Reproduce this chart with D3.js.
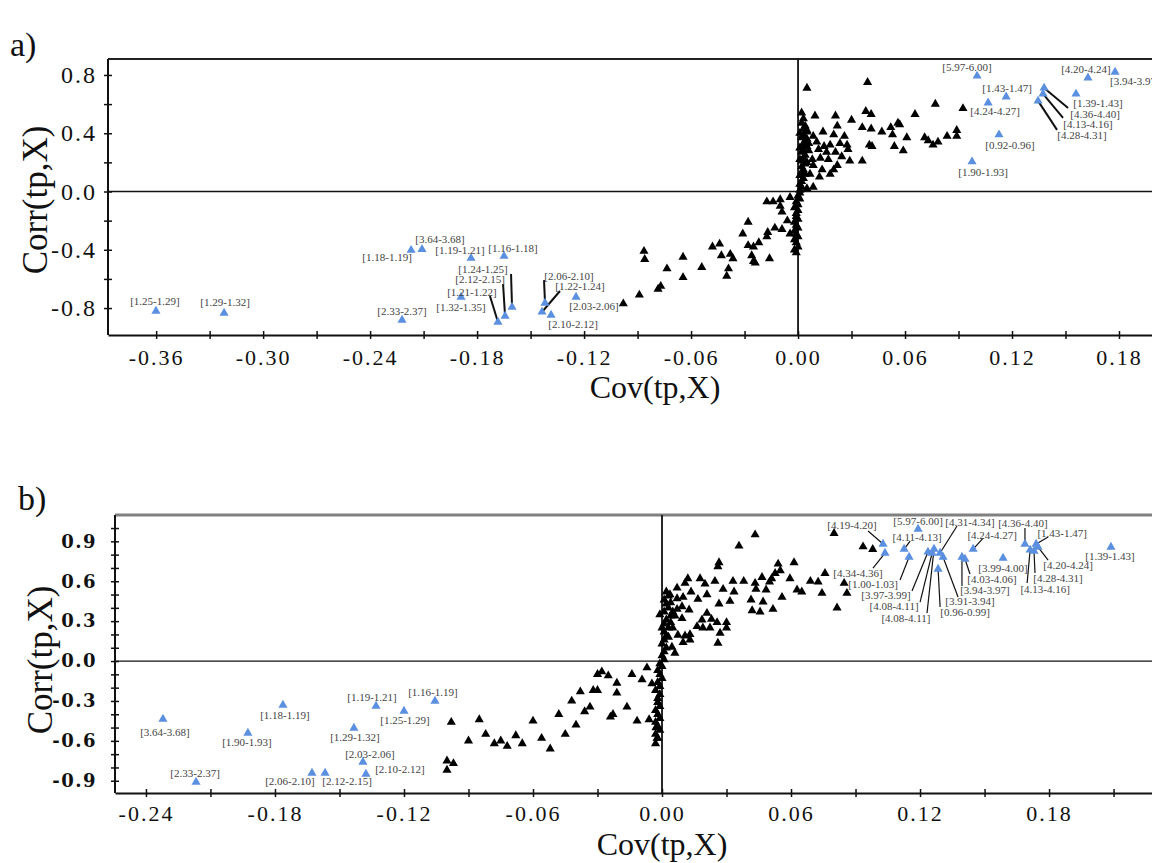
<!DOCTYPE html>
<html><head><meta charset="utf-8">
<script src="https://cdn.jsdelivr.net/npm/d3@7"></script>
<style>body{margin:0;background:#fff;overflow:hidden}svg{display:block}</style>
</head><body>
<script>
// ---------------- DATA ----------------
// Panel a) tick values / labels
const aXTicks = [-0.36,-0.33,-0.30,-0.27,-0.24,-0.21,-0.18,-0.15,-0.12,-0.09,-0.06,-0.03,0.00,0.03,0.06,0.09,0.12,0.15,0.18];
const aXLabelVals = [-0.36,-0.30,-0.24,-0.18,-0.12,-0.06,0.00,0.06,0.12,0.18];
const aXLabels = ["-0.36","-0.30","-0.24","-0.18","-0.12","-0.06","0.00","0.06","0.12","0.18"];
const aYTicks = [-0.8,-0.6,-0.4,-0.2,0.0,0.2,0.4,0.6,0.8];
const aYLabelVals = [-0.8,-0.4,0.0,0.4,0.8];
const aYLabels = ["-0.8","-0.4","0.0","0.4","0.8"];
// Panel b) tick values / labels
const bXTicks = [-0.24,-0.21,-0.18,-0.15,-0.12,-0.09,-0.06,-0.03,0.00,0.03,0.06,0.09,0.12,0.15,0.18,0.21];
const bXLabelVals = [-0.24,-0.18,-0.12,-0.06,0.00,0.06,0.12,0.18];
const bXLabels = ["-0.24","-0.18","-0.12","-0.06","0.00","0.06","0.12","0.18"];
const bYTicks = [-0.9,-0.8,-0.7,-0.6,-0.5,-0.4,-0.3,-0.2,-0.1,0.0,0.1,0.2,0.3,0.4,0.5,0.6,0.7,0.8,0.9,1.0];
const bYLabelVals = [-0.9,-0.6,-0.3,0.0,0.3,0.6,0.9];
const bYLabels = ["-0.9","-0.6","-0.3","0.0","0.3","0.6","0.9"];

// Panel a) black variables [Cov, Corr]
const aBlack = [
[0.005,0.71],[0.039,0.75],[0.002,0.54],[0.0095,0.52],[0.021,0.52],[0.030,0.49],[0.038,0.55],[0.041,0.53],[0.052,0.44],[0.056,0.47],
[0.022,0.45],[0.036,0.44],[0.041,0.43],[0.047,0.41],[0.053,0.39],[0.014,0.41],[0.020,0.39],[0.026,0.38],[0.0085,0.38],[0.0105,0.34],
[0.018,0.32],[0.0235,0.33],[0.0275,0.32],[0.028,0.29],[0.040,0.32],[0.0415,0.31],[0.054,0.31],[0.036,0.21],[0.029,0.21],[0.0115,0.29],
[0.016,0.27],[0.021,0.27],[0.0245,0.24],[0.0125,0.23],[0.017,0.22],[0.022,0.18],[0.0085,0.18],[0.020,0.15],[0.0135,0.15],[0.018,0.12],
[0.0067,0.12],[0.012,0.10],[0.0085,0.03],[0.005,0.02],[0.0146,0.31],[0.008,0.22],
[0.057,0.46],[0.0656,0.53],[0.077,0.60],[0.0925,0.57],[0.061,0.37],[0.071,0.37],[0.073,0.35],[0.0757,0.32],[0.0785,0.34],[0.0836,0.38],
[0.089,0.42],[0.089,0.38],[0.059,0.28],
[-0.0175,-0.07],[-0.014,-0.07],[-0.010,-0.055],[-0.0045,-0.04],[-0.009,-0.14],[-0.010,-0.10],[-0.006,-0.20],[-0.009,-0.26],[-0.013,-0.25],
[-0.017,-0.28],[-0.0175,-0.31],[-0.0045,-0.29],[-0.028,-0.21],[-0.031,-0.29],[-0.022,-0.35],[-0.028,-0.37],[-0.025,-0.38],[-0.026,-0.44],
[-0.025,-0.48],[-0.024,-0.49],[-0.016,-0.46],[-0.048,-0.38],[-0.044,-0.36],[-0.043,-0.44],[-0.038,-0.43],[-0.0365,-0.46],[-0.039,-0.53],
[-0.040,-0.58],[-0.054,-0.52],[-0.0645,-0.45],[-0.0645,-0.59],[-0.0735,-0.53],[-0.077,-0.65],[-0.0785,-0.67],[-0.0864,-0.41],[-0.086,-0.465],
[-0.089,-0.71],[-0.098,-0.77],
[-0.001,-0.42],[-0.002,-0.40],[0.000,-0.38],[-0.001,-0.35],[-0.002,-0.33],[0.000,-0.31],[-0.001,-0.29],[-0.002,-0.27],[0.000,-0.25],
[-0.001,-0.23],[-0.002,-0.21],[0.000,-0.19],[-0.001,-0.17],[-0.001,-0.15],[0.000,-0.13],[-0.002,-0.11],[0.000,-0.09],[-0.001,-0.07],
[0.001,-0.05],[0.000,-0.03],[0.001,-0.01],[0.001,0.01],[0.002,0.03],[0.001,0.05],[0.002,0.07],[0.003,0.09],[0.001,0.11],[0.002,0.13],
[0.003,0.15],[0.002,0.17],[0.004,0.19],[0.002,0.21],[0.003,0.23],[0.004,0.25],[0.002,0.27],[0.003,0.29],[0.005,0.31],[0.003,0.33],
[0.004,0.35],[0.002,0.37],[0.003,0.39],[0.005,0.41],[0.003,0.43],[0.004,0.45],[0.002,0.47],[0.003,0.50],[0.005,0.36],[0.006,0.28],
[0.005,0.20],[0.004,0.12],[0.005,0.42],[0.006,0.33],[0.001,0.40],[0.001,0.30],[0.001,0.22]
];
// Panel a) highlighted (blue) variables
const aBlueLabel = ["[5.97-6.00]","[1.43-1.47]","[4.24-4.27]","[0.92-0.96]","[1.90-1.93]","[4.20-4.24]","[3.94-3.97]","[1.39-1.43]",
"[4.36-4.40]","[4.13-4.16]","[4.28-4.31]","[1.18-1.19]","[3.64-3.68]","[1.19-1.21]","[1.16-1.18]","[1.24-1.25]","[2.12-2.15]",
"[1.21-1.22]","[1.32-1.35]","[2.33-2.37]","[2.06-2.10]","[1.22-1.24]","[2.10-2.12]","[2.03-2.06]","[1.25-1.29]","[1.29-1.32]"];
const aBlueX = [0.1004,0.1167,0.1066,0.1127,0.0976,0.1626,0.1778,0.1559,0.1380,0.1374,0.1346,-0.2170,-0.2109,-0.1834,-0.1649,-0.1604,
-0.1643,-0.1683,-0.1890,-0.2221,-0.1419,-0.1436,-0.1385,-0.1245,-0.3601,-0.3219];
const aBlueY = [0.793,0.650,0.609,0.390,0.205,0.780,0.820,0.670,0.711,0.670,0.622,-0.403,-0.397,-0.458,-0.444,-0.793,-0.855,-0.896,
-0.725,-0.882,-0.766,-0.827,-0.848,-0.725,-0.821,-0.834];

// Panel b) black variables
const bBlack = [
[0.0433,0.95],[0.0358,0.865],[0.080,0.96],[0.0935,0.86],[0.098,0.84],[0.0265,0.74],[0.026,0.71],[0.0614,0.74],[0.054,0.73],[0.055,0.68],
[0.0758,0.66],[0.012,0.62],[0.0177,0.62],[0.0246,0.60],[0.033,0.60],[0.038,0.60],[0.0465,0.63],[0.051,0.62],[0.0595,0.62],[0.0526,0.66],
[0.020,0.58],[0.0107,0.585],[0.0433,0.585],[0.050,0.595],[0.069,0.60],[0.0726,0.595],[0.0847,0.585],[0.007,0.55],[0.0135,0.52],[0.0209,0.50],
[0.0284,0.54],[0.0335,0.52],[0.0437,0.54],[0.0484,0.535],[0.0628,0.535],[0.065,0.52],[0.0744,0.51],[0.086,0.51],[0.0037,0.50],[0.007,0.47],
[0.0098,0.48],[0.0167,0.465],[0.0265,0.43],[0.0316,0.45],[0.0414,0.46],[0.047,0.445],[0.0558,0.48],[0.0814,0.40],[0.0419,0.38],[0.0456,0.37],
[0.0516,0.39],[0.007,0.39],[0.0093,0.41],[0.0126,0.385],[0.0209,0.36],[0.006,0.34],[0.0093,0.32],[0.0186,0.31],[0.023,0.315],[0.0256,0.29],
[0.030,0.29],[0.0163,0.26],[0.019,0.25],[0.0223,0.25],[0.030,0.25],[0.005,0.25],[0.0074,0.195],[0.0107,0.19],[0.013,0.20],[0.027,0.21],
[0.0098,0.14],[0.013,0.16],[0.026,0.135],[0.0046,0.105],[0.006,0.06],
[-0.007,-0.05],[-0.028,-0.08],[-0.025,-0.11],[-0.021,-0.165],[-0.014,-0.10],[-0.0093,-0.14],[-0.0047,-0.17],[-0.032,-0.22],[-0.021,-0.24],
[-0.0163,-0.345],[-0.0228,-0.40],[-0.024,-0.42],[-0.0116,-0.45],[-0.006,-0.44],[-0.0028,-0.50],[-0.0023,-0.58],[-0.0335,-0.345],
[-0.100,-0.75],[-0.100,-0.82],[-0.097,-0.77],[-0.098,-0.46],[-0.090,-0.60],[-0.085,-0.44],[-0.082,-0.55],[-0.078,-0.62],[-0.075,-0.60],
[-0.072,-0.64],[-0.068,-0.56],[-0.065,-0.62],[-0.060,-0.45],[-0.056,-0.58],[-0.052,-0.66],[-0.048,-0.40],[-0.045,-0.55],[-0.042,-0.30],
[-0.040,-0.48],[-0.038,-0.23],[-0.036,-0.38],[-0.030,-0.10],[-0.030,-0.22],
[-0.002,-0.58],[-0.003,-0.55],[-0.001,-0.52],[-0.002,-0.49],[-0.003,-0.46],[-0.001,-0.43],[-0.002,-0.40],[-0.003,-0.37],[-0.001,-0.34],
[-0.002,-0.31],[-0.002,-0.28],[-0.001,-0.25],[-0.003,-0.22],[-0.001,-0.19],[-0.002,-0.16],[0.000,-0.13],[-0.001,-0.10],[-0.002,-0.07],
[0.000,-0.04],[-0.001,-0.02],[0.001,0.01],[0.000,0.04],[0.001,0.07],[0.002,0.10],[0.000,0.13],[0.001,0.16],[0.002,0.19],[0.001,0.22],
[0.003,0.25],[0.001,0.28],[0.002,0.31],[0.004,0.34],[0.001,0.37],[0.003,0.40],[0.002,0.43],[0.001,0.46],[0.003,0.49],[0.002,0.52],
[0.004,0.29],[0.005,0.37],[0.003,0.18],[0.004,0.44],[-0.001,0.35],[0.000,0.25],[-0.003,-0.62]
];
// Panel b) highlighted (blue) variables
const bBlueLabel = ["[4.19-4.20]","[4.34-4.36]","[5.97-6.00]","[4.31-4.34]","[4.11-4.13]","[4.24-4.27]","[4.36-4.40]","[1.43-1.47]",
"[1.39-1.43]","[1.00-1.03]","[3.97-3.99]","[4.08-4.11]","[4.08-4.11]","[0.96-0.99]","[3.91-3.94]","[3.94-3.97]","[4.03-4.06]",
"[3.99-4.00]","[4.13-4.16]","[4.28-4.31]","[4.20-4.24]","[3.64-3.68]","[1.18-1.19]","[1.90-1.93]","[1.19-1.21]","[1.16-1.19]",
"[1.25-1.29]","[1.29-1.32]","[2.03-2.06]","[2.10-2.12]","[2.06-2.10]","[2.12-2.15]","[2.33-2.37]"];
const bBlueX = [0.1028,0.1037,0.1191,0.1293,0.1126,0.1447,0.1688,0.1740,0.2088,0.1149,0.1237,0.1256,0.1265,0.1284,0.1307,0.1395,0.1409,
0.1586,0.1712,0.1730,0.1749,-0.2321,-0.1763,-0.1926,-0.1330,-0.1056,-0.1200,-0.1433,-0.1391,-0.1377,-0.1628,-0.1567,-0.2167];
const bBlueY = [0.880,0.812,0.992,0.812,0.842,0.842,0.880,0.880,0.857,0.782,0.820,0.812,0.842,0.692,0.782,0.782,0.767,0.774,0.835,0.827,
0.857,-0.436,-0.331,-0.541,-0.338,-0.301,-0.376,-0.504,-0.759,-0.850,-0.842,-0.842,-0.910];

// ---------------- LAYOUT (label placement, px offsets from the point) ----------------
// [dx, dy, leaderDx, leaderDy, anchor]
const aLabelPos = [[-10,-9],[1,-9],[7,8],[11,10],[11,10],[-2,-9],[-5,9,null,null,"start"],[22,9],
[51,26,24,20],[45,30,20,24],[44,34,19,29],[-24,7],[18,-10],[-11,-8],[9,-8],[-29,-38,-1,-33],[-25,-37,-2,-32],
[-26,-30,-8,-26],[0,10],[0,-9],[24,-27,-1,-23],[38,-26,18,-21],[22,9],[18,9],[-1,-10],[1,-11]];
const bLabelPos = [[-31,-19,-15,-13],[-27,20,-12,15],[0,-8],[30,-31,17,-27],[13,-12,6,-8],[19,-14,10,-11],[-2,-21,0,-16],[26,-11,12,-7],
[-1,9],[-36,27,-9,23],[-42,43,-16,39],[-38,53,-12,49],[-28,69,-7,64],[27,43,2,38],[27,44,15,40],[23,33,0,29],[27,20,5,15],
[0,10],[15,39,-3,33],[24,27,1,22],[30,18,10,13],[2,13],[2,10],[-1,9],[-4,-9],[-2,-9],[1,9],[1,9],[7,-8],[34,-5],[-22,8],[22,8],[-1,-9]];

// ---------------- DRAW ----------------
const W = 1152, H = 863;
const SERIF = "'Liberation Serif','Times New Roman',serif";
const svg = d3.select("body").append("svg").attr("width", W).attr("height", H)
  .style("font-family", SERIF);

function drawPanel(p) {
  const x = d3.scaleLinear().domain(p.xDomain).range([p.left, p.right]);
  const y = d3.scaleLinear().domain(p.yDomain).range([p.bottom, p.top]);
  const g = svg.append("g");

  g.append("line").attr("x1", p.left).attr("x2", p.right).attr("y1", p.top).attr("y2", p.top)
    .attr("stroke", p.topColor).attr("stroke-width", p.topWidth);
  g.append("line").attr("x1", p.left).attr("x2", p.right).attr("y1", y(0)).attr("y2", y(0))
    .attr("stroke", "#111").attr("stroke-width", 1.3);
  g.append("line").attr("x1", x(0)).attr("x2", x(0)).attr("y1", p.top).attr("y2", p.bottom)
    .attr("stroke", "#111").attr("stroke-width", 1.8);

  const xl = new Map(p.xLabelVals.map((v, i) => [v.toFixed(2), p.xLabels[i]]));
  const xa = g.append("g").attr("transform", `translate(0,${p.bottom})`)
    .call(d3.axisBottom(x).tickValues(p.xTicks).tickSizeOuter(0).tickSizeInner(4).tickPadding(p.xPad)
      .tickFormat(v => xl.get(v.toFixed(2)) || ""));
  xa.select(".domain").attr("stroke", "#111").attr("stroke-width", 2);
  xa.selectAll(".tick line").attr("y1", -4).attr("y2", 4).attr("stroke", "#111").attr("stroke-width", 1.5);
  xa.selectAll(".tick text").attr("font-family", p.xFont).attr("font-size", p.xFontSize)
    .attr("letter-spacing", p.xLetter).attr("fill", "#111");

  const yl = new Map(p.yLabelVals.map((v, i) => [v.toFixed(1), p.yLabels[i]]));
  const ya = g.append("g").attr("transform", `translate(${p.left},0)`)
    .call(d3.axisLeft(y).tickValues(p.yTicks).tickSizeOuter(0).tickSizeInner(4).tickPadding(p.yPad)
      .tickFormat(v => yl.get(v.toFixed(1)) || ""));
  ya.select(".domain").attr("stroke", "#111").attr("stroke-width", 2)
    .attr("d", `M0,${p.top}V${p.bottom}`);
  ya.selectAll(".tick line").attr("x1", -4).attr("x2", 4).attr("stroke", "#111").attr("stroke-width", 1.5);
  ya.selectAll(".tick text").attr("font-family", p.yFont).attr("font-size", p.yFontSize)
    .attr("font-weight", p.yWeight).attr("letter-spacing", p.yLetter).attr("fill", "#111");

  g.append("text").attr("x", p.xTitle[0]).attr("y", p.xTitle[1]).attr("text-anchor", "middle")
    .attr("font-size", p.titleSize).attr("fill", "#111").text("Cov(tp,X)");
  g.append("text").attr("transform", `translate(${p.yTitle[0]},${p.yTitle[1]}) rotate(-90)`)
    .attr("text-anchor", "middle").attr("font-size", p.yTitleSize).attr("fill", "#111").text("Corr(tp,X)");
  g.append("text").attr("x", p.tag[0]).attr("y", p.tag[1]).attr("font-size", 34).attr("fill", "#111").text(p.tagText);

  const tri = d3.symbol().type(d3.symbolTriangle).size(p.symSize);
  g.append("g").selectAll("path").data(p.black).join("path")
    .attr("transform", d => `translate(${x(d[0])},${y(d[1])})`).attr("d", tri).attr("fill", "#000");

  const blue = p.blueLabel.map((l, i) => ({ l, x: p.blueX[i], y: p.blueY[i], pos: p.labelPos[i] }));
  g.append("g").selectAll("line").data(blue.filter(d => d.pos[2] != null)).join("line")
    .attr("x1", d => x(d.x)).attr("y1", d => y(d.y))
    .attr("x2", d => x(d.x) + d.pos[2]).attr("y2", d => y(d.y) + d.pos[3])
    .attr("stroke", "#111").attr("stroke-width", p.leaderWidth);
  g.append("g").selectAll("path").data(blue).join("path")
    .attr("transform", d => `translate(${x(d.x)},${y(d.y)})`).attr("d", tri).attr("fill", "#5b8fe0");
  g.append("g").selectAll("text").data(blue).join("text")
    .attr("x", d => x(d.x) + d.pos[0]).attr("y", d => y(d.y) + d.pos[1])
    .attr("text-anchor", d => d.pos[4] || "middle").attr("dominant-baseline", "central")
    .attr("font-size", p.labelSize).attr("fill", "#444").text(d => d.l);
}

drawPanel({
  left: 108, right: 1160, top: 59, bottom: 335,
  xDomain: [-0.387, 0.203], yDomain: [-0.985, 0.9096],
  topColor: "#222", topWidth: 2,
  xTicks: aXTicks, xLabelVals: aXLabelVals, xLabels: aXLabels,
  yTicks: aYTicks, yLabelVals: aYLabelVals, yLabels: aYLabels,
  xFont: SERIF, xFontSize: 22, xLetter: 2, xPad: 10,
  yFont: SERIF, yFontSize: 24, yLetter: 2, yWeight: "normal", yPad: 7,
  xTitle: [655, 398], yTitle: [47, 200], titleSize: 32, yTitleSize: 35,
  tag: [10, 56], tagText: "a)",
  black: aBlack, blueLabel: aBlueLabel, blueX: aBlueX, blueY: aBlueY, labelPos: aLabelPos,
  symSize: 36, labelSize: 11, leaderWidth: 2
});

drawPanel({
  left: 115, right: 1160, top: 515, bottom: 793,
  xDomain: [-0.2544, 0.2316], yDomain: [-0.992, 1.098],
  topColor: "#808080", topWidth: 3,
  xTicks: bXTicks, xLabelVals: bXLabelVals, xLabels: bXLabels,
  yTicks: bYTicks, yLabelVals: bYLabelVals, yLabels: bYLabels,
  xFont: SERIF, xFontSize: 22, xLetter: 2, xPad: 8,
  yFont: "'DejaVu Serif',serif", yFontSize: 18, yLetter: 1.5, yWeight: "bold", yPad: 14,
  xTitle: [662, 855], yTitle: [52, 660], titleSize: 32, yTitleSize: 35,
  tag: [18, 510], tagText: "b)",
  black: bBlack, blueLabel: bBlueLabel, blueX: bBlueX, blueY: bBlueY, labelPos: bLabelPos,
  symSize: 36, labelSize: 11, leaderWidth: 1.2
});
</script>
</body></html>
